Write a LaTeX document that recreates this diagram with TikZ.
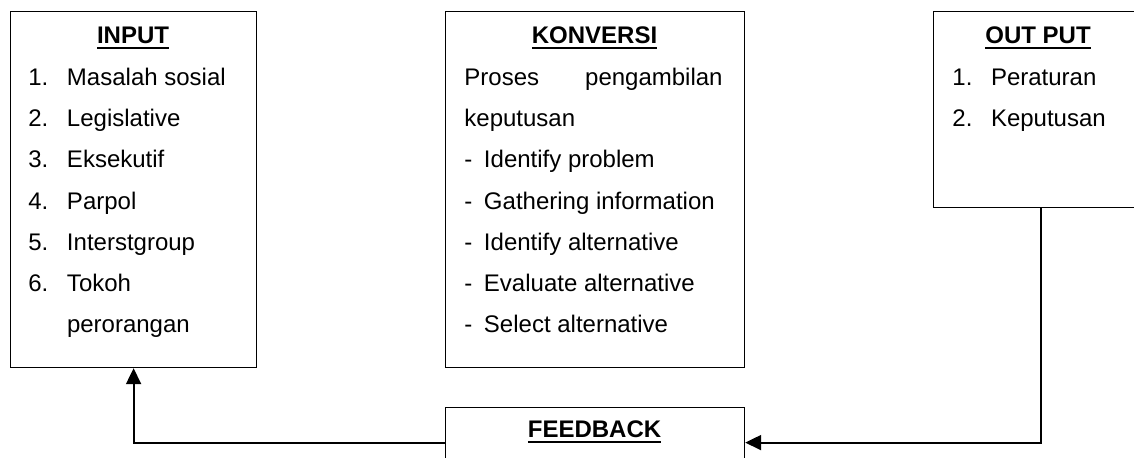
\documentclass[tikz,border=0pt]{standalone}
\usepackage{fontspec}
\setmainfont{Liberation Sans}
\usetikzlibrary{arrows.meta}
\newcommand{\ulhead}[1]{\setbox0\hbox{\textbf{#1}}\rlap{\copy0}\rule[-2.4pt]{\wd0}{1pt}}
\newcommand{\numline}[2]{\makebox[19.3pt][l]{#1}#2}
\newcommand{\dashline}[1]{\makebox[9.8pt][l]{-}#1}
\begin{document}
\begin{tikzpicture}[x=0.5pt,y=-0.5pt,
box/.style={draw=black,line width=0.6pt,inner sep=0pt,anchor=north west},
txt/.style={anchor=base west,inner sep=0pt,font=\fontsize{12}{14}\selectfont},
head/.style={anchor=base,inner sep=0pt,font=\fontsize{12}{14}\selectfont},
arr/.style={-{Triangle[length=8pt,width=7.5pt]},line width=1pt}]
\clip (0,0) rectangle (1134,458);
\node[box,
minimum width =123pt ,
minimum height =178pt] (1) at(10,11){};
\node[box,
minimum width =149.5pt ,
minimum height =178pt] (2) at(445,11){};
\node[box,
minimum width =107pt ,
minimum height =98pt] (3) at(933,11){};
\node[box,
minimum width =149.5pt ,
minimum height =35pt] (4) at(445,407){};
\node[head] (h1) at(133,44){\ulhead{INPUT}};
\node[txt] (a1) at(28,86){\numline{1.}{Masalah sosial}};
\node[txt] (a2) at(28,127){\numline{2.}{Legislative}};
\node[txt] (a3) at(28,168){\numline{3.}{Eksekutif}};
\node[txt] (a4) at(28,210){\numline{4.}{Parpol}};
\node[txt] (a5) at(28,251){\numline{5.}{Interstgroup}};
\node[txt] (a6) at(28,292){\numline{6.}{Tokoh}};
\node[txt] (a7) at(28,333){\numline{}{perorangan}};
\node[head] (h2) at(594.5,44){\ulhead{KONVERSI}};
\node[txt] (b1) at(464,86){Proses};
\node[txt,anchor=base east] (b2) at(723,86){pengambilan};
\node[txt] (b3) at(464,127){keputusan};
\node[txt] (b4) at(464,168){\dashline{Identify problem}};
\node[txt] (b5) at(464,210){\dashline{Gathering information}};
\node[txt] (b6) at(464,251){\dashline{Identify alternative}};
\node[txt] (b7) at(464,292){\dashline{Evaluate alternative}};
\node[txt] (b8) at(464,333){\dashline{Select alternative}};
\node[head] (h3) at(1038,44){\ulhead{OUT PUT}};
\node[txt] (c1) at(952,86){\numline{1.}{Peraturan}};
\node[txt] (c2) at(952,127){\numline{2.}{Keputusan}};
\node[head] (h4) at(594.5,438){\ulhead{FEEDBACK}};
\draw[arr] (4.west) -| (1.south);
\draw[arr] (3.south) |- (4.east);
\end{tikzpicture}
\end{document}
